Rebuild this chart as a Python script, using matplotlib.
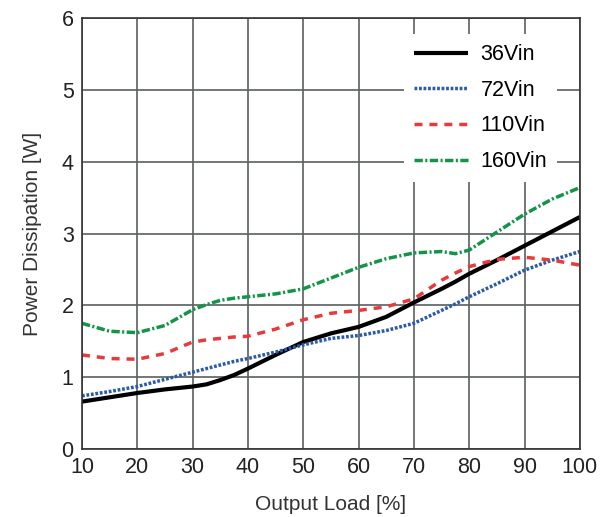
import matplotlib
matplotlib.use("Agg")
import matplotlib.pyplot as plt

plt.rcParams['font.family'] = ['Liberation Sans', 'DejaVu Sans']

load = [10, 15, 20, 25, 30, 32.5, 35, 37.5, 40, 45, 50, 55, 60, 65, 70, 75, 77.5, 80, 85, 90, 95, 100]
p36 = [0.66, 0.72, 0.78, 0.83, 0.87, 0.90, 0.96, 1.03, 1.12, 1.31, 1.49, 1.61, 1.70, 1.84, 2.04, 2.23, 2.33, 2.44, 2.63, 2.83, 3.03, 3.23]
p72 = [0.74, 0.80, 0.87, 0.97, 1.07, 1.12, 1.17, 1.22, 1.26, 1.35, 1.45, 1.54, 1.58, 1.65, 1.75, 1.93, 2.02, 2.12, 2.30, 2.49, 2.63, 2.75]
p110 = [1.31, 1.26, 1.25, 1.33, 1.49, 1.52, 1.54, 1.56, 1.57, 1.67, 1.80, 1.89, 1.93, 1.98, 2.09, 2.35, 2.45, 2.54, 2.64, 2.67, 2.63, 2.56]
p160 = [1.75, 1.64, 1.62, 1.72, 1.94, 2.01, 2.07, 2.10, 2.12, 2.16, 2.23, 2.38, 2.53, 2.65, 2.73, 2.75, 2.72, 2.77, 3.02, 3.27, 3.48, 3.64]

series = [
    ("36Vin", p36, "black", "-", 3.0),
    ("72Vin", p72, "#2a5aa8", (0, (0.8, 0.5)), 2.5),
    ("110Vin", p110, "#e83a3a", (0, (2.3, 2.0)), 2.5),
    ("160Vin", p160, "#139448", (0, (2.4, 0.7, 0.6, 0.7)), 2.5),
]

fig = plt.figure(figsize=(6.09, 5.17), dpi=100)
ax = fig.add_axes([0.1346, 0.1315, 0.8175, 0.8335])

for name, vals, col, ls, lw in series:
    ax.plot(load, vals, color=col, linestyle=ls, linewidth=lw, label=name,
            solid_capstyle="butt", dash_capstyle="butt", solid_joinstyle="round")

ax.set_xlim(10, 100)
ax.set_ylim(0, 6)
ax.set_xticks(range(10, 101, 10))
ax.set_yticks(range(0, 7))
ax.grid(True, color="#5a5f5f", linewidth=1.2)
ax.set_axisbelow(True)
ax.tick_params(length=0, labelsize=15.5, colors="#222222", pad=6)
for s in ax.spines.values():
    s.set_color("#333333")
    s.set_linewidth(1.2)
ax.set_xlabel("Output Load [%]", fontsize=15, color="#333333", labelpad=12)
ax.set_ylabel("Power Dissipation [W]", fontsize=15, color="#333333", labelpad=14)

leg = ax.legend(loc="upper left", bbox_to_anchor=(0.647, 0.962), frameon=True,
                fontsize=15.5, handlelength=2.5, handletextpad=0.6,
                labelspacing=0.68, borderpad=0.45, borderaxespad=0,
                fancybox=False, edgecolor="white", framealpha=1)
leg.get_frame().set_linewidth(0)

fig.savefig("out.png", dpi=100)
